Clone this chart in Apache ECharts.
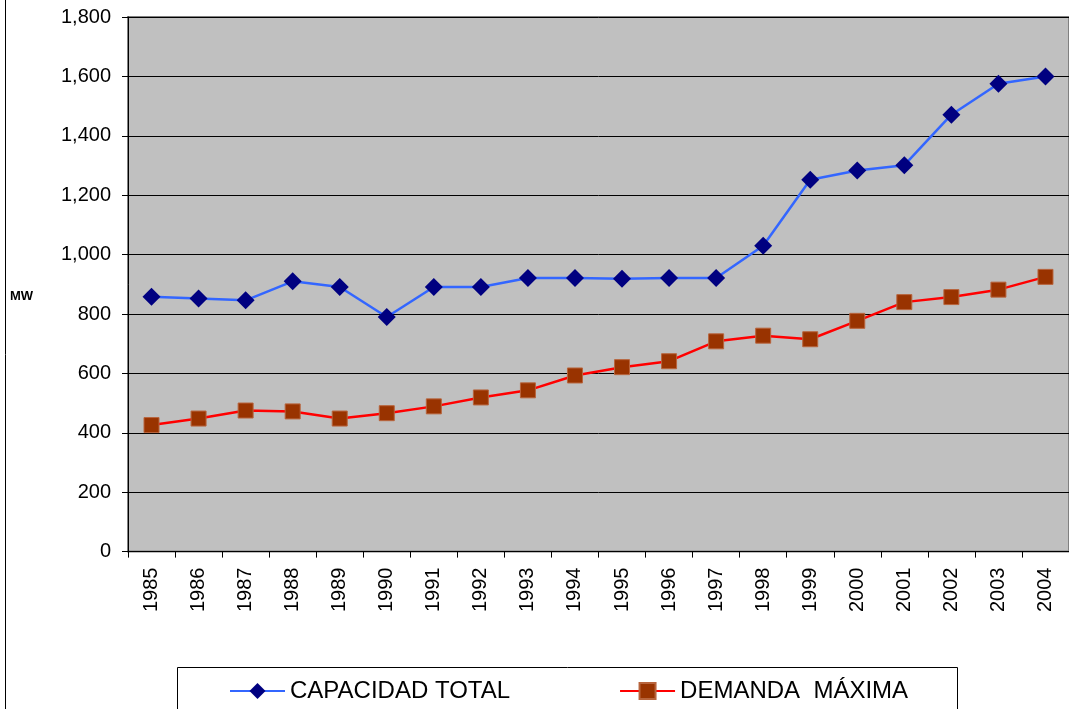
<!DOCTYPE html>
<html lang="es">
<head>
    <meta charset="UTF-8">
    <title>Capacidad total y demanda máxima</title>
    <script src="https://cdn.jsdelivr.net/npm/echarts@6/dist/echarts.min.js"></script>
    <style>
        html, body { margin: 0; padding: 0; background: #fff; }
        #main { width: 1069px; height: 709px; }
    </style>
</head>
<body>
    <div id="main"></div>
    <script>
    // datos
    var years = ['1985','1986','1987','1988','1989','1990','1991','1992','1993','1994',
                 '1995','1996','1997','1998','1999','2000','2001','2002','2003','2004'];
    var capacidadTotal = [858, 852, 846, 910, 891, 790, 891, 891, 921, 921,
                          919, 921, 921, 1030, 1252, 1283, 1301, 1471, 1575, 1600];
    var demandaMaxima = [426, 448, 475, 472, 448, 466, 489, 519, 543, 593,
                         621, 641, 708, 727, 715, 777, 840, 857, 882, 925];
    var seriesNames = ['CAPACIDAD TOTAL', 'DEMANDA  MÁXIMA'];

    var myChart = echarts.init(document.getElementById('main'));

    var option = {
        animation: false,
        textStyle: { fontFamily: 'Liberation Sans, Arial, sans-serif' },
        grid: {
            left: 128,
            top: 17,
            width: 947,
            height: 534.6,
            show: true,
            backgroundColor: '#C0C0C0',
            borderColor: '#808080',
            borderWidth: 2
        },
        legend: {
            left: 224,
            top: 674,
            itemWidth: 55,
            itemHeight: 20,
            itemGap: 109,
            textStyle: { fontSize: 24, color: '#000', padding: [0, 0, 0, 0] },
            data: seriesNames
        },
        xAxis: {
            type: 'category',
            data: years,
            boundaryGap: true,
            axisLine: { lineStyle: { color: '#000', width: 1 } },
            axisTick: { show: true, length: 6, lineStyle: { color: '#000' } },
            axisLabel: { rotate: 90, fontSize: 20, color: '#000', margin: 16, interval: 0 },
            splitLine: { show: false }
        },
        yAxis: {
            type: 'value',
            min: 0,
            max: 1800,
            interval: 200,
            axisLine: { show: true, lineStyle: { color: '#000', width: 1 } },
            axisTick: { show: true, length: 6, lineStyle: { color: '#000' } },
            axisLabel: {
                fontSize: 20,
                color: '#000',
                margin: 17,
                formatter: function (v) { return v.toLocaleString('en-US'); }
            },
            splitLine: { lineStyle: { color: '#000', width: 1 } }
        },
        graphic: [
            {
                type: 'rect',
                z: -10,
                shape: { x: 5.5, y: -10, width: 2000, height: 2000 },
                style: { fill: 'none', stroke: '#000', lineWidth: 1 }
            },
            {
                type: 'rect',
                z: 0,
                shape: { x: 177.5, y: 667.5, width: 780, height: 100 },
                style: { fill: '#fff', stroke: '#000', lineWidth: 1 }
            },
            {
                type: 'text',
                left: 10,
                top: 290,
                style: { text: 'MW', fontSize: 13, fontWeight: 'bold', fill: '#000',
                         fontFamily: 'Liberation Sans, Arial, sans-serif' }
            }
        ],
        series: [
            {
                name: seriesNames[0],
                type: 'line',
                data: capacidadTotal,
                symbol: 'diamond',
                symbolSize: 18,
                itemStyle: { color: '#000080' },
                lineStyle: { color: '#3366FF', width: 2.5 },
                z: 3
            },
            {
                name: seriesNames[1],
                type: 'line',
                data: demandaMaxima,
                symbol: 'rect',
                symbolSize: 15,
                itemStyle: { color: '#993300', borderColor: '#B8643C', borderWidth: 1 },
                lineStyle: { color: '#FF0000', width: 2.5 },
                z: 3
            }
        ]
    };

    myChart.setOption(option);
    </script>
</body>
</html>
